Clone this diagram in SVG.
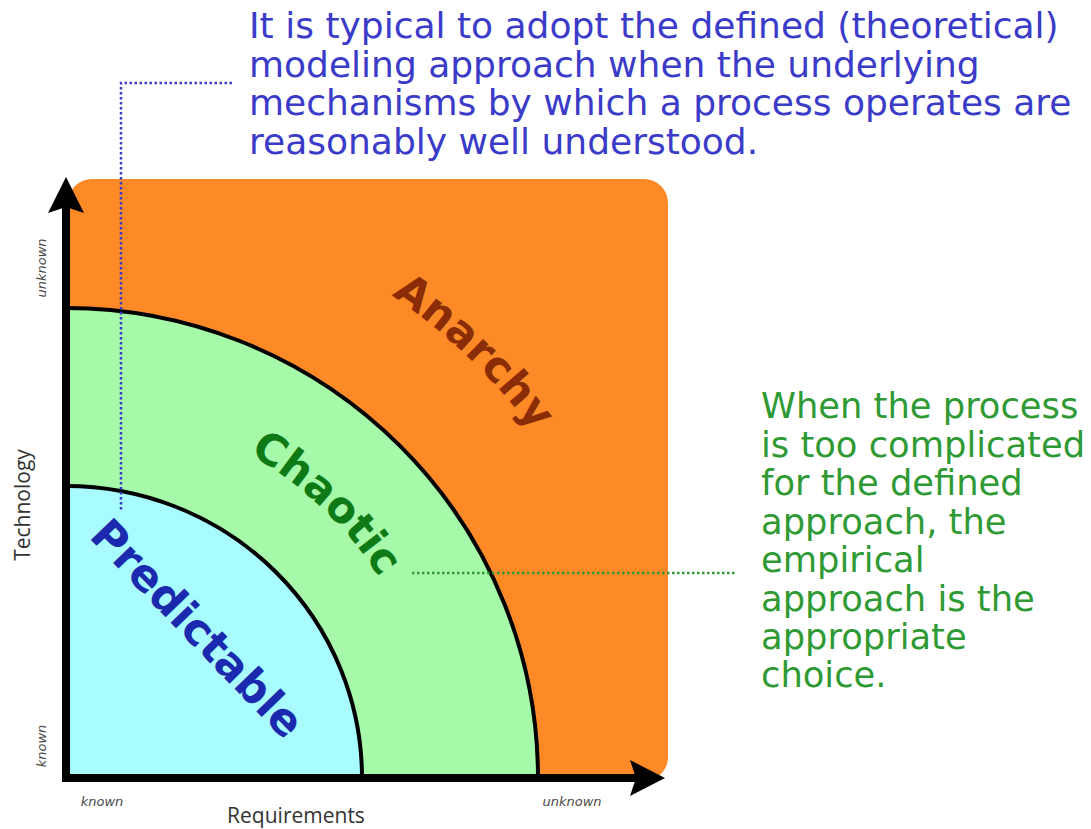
<svg xmlns="http://www.w3.org/2000/svg" width="1091" height="829" viewBox="0 0 1091 829">
<style>
.note{font-family:"DejaVu Sans",Verdana,sans-serif;font-size:36px}
.blue{fill:#3b3bc9}
.green{fill:#2f9a34}
.zone{font-family:"DejaVu Sans",Verdana,sans-serif;font-weight:bold;font-size:43px}
.tiny{font-family:"DejaVu Sans",Verdana,sans-serif;font-style:italic;font-size:13px;fill:#4a4a4a}
.axlabel{font-family:"Open Sans","Liberation Sans",sans-serif;font-size:21px;fill:#333}
.arc{fill:none;stroke:#000;stroke-width:4}
</style>
<defs>
<path id="pChaotic" d="M66,406 A372,372 0 0 1 438,778"/>
<path id="pAnarchy" d="M66,196 A582,582 0 0 1 648,778"/>
</defs>
<g id="anarchy">
<rect x="68" y="179" width="600" height="602" rx="24" fill="#fd8a26"/>
<text class="zone" fill="#8a2c06"><textPath href="#pAnarchy" startOffset="48.6%" text-anchor="middle">Anarchy</textPath></text>
</g>
<g id="chaotic">
<path d="M66,778 L66,308 A472,470 0 0 1 538,778 Z" fill="#a7f9aa"/>
<path class="arc" d="M66,308 A472,470 0 0 1 538,778"/>
<text class="zone" fill="#0d7a16"><textPath href="#pChaotic" startOffset="48.3%" text-anchor="middle">Chaotic</textPath></text>
</g>
<g id="predictable">
<path d="M66,778 L66,486 A296,292 0 0 1 362,778 Z" fill="#a8fbfe"/>
<path class="arc" d="M66,486 A296,292 0 0 1 362,778"/>
<text class="zone" fill="#1a29ae" style="font-size:44px" x="88" y="537" transform="rotate(46 88 537)">Predictable</text>
</g>
<g id="axes">
<line x1="66" y1="782" x2="66" y2="205" stroke="#000" stroke-width="8"/>
<polygon points="66,177 84,213 66,207 48,213" fill="#000"/>
<line x1="62" y1="778" x2="640" y2="778" stroke="#000" stroke-width="8"/>
<polygon points="665,778 630,796 636,778 630,760" fill="#000"/>
<text class="tiny" transform="translate(46,268) rotate(-90)" text-anchor="middle">unknown</text>
<text class="tiny" transform="translate(46,746) rotate(-90)" text-anchor="middle">known</text>
<text class="tiny" x="102" y="806" text-anchor="middle">known</text>
<text class="tiny" x="572" y="806" text-anchor="middle">unknown</text>
<text class="axlabel" transform="translate(30,505) rotate(-90)" text-anchor="middle">Technology</text>
<text class="axlabel" x="296" y="823" text-anchor="middle">Requirements</text>
</g>
<g id="connectors">
<polyline points="232,83 121,83 121,512" fill="none" stroke="#3b3bc9" stroke-width="2.5" stroke-dasharray="2.5 2.5"/>
<line x1="412" y1="573" x2="737" y2="573" stroke="#2f9a34" stroke-width="2.5" stroke-dasharray="2.5 2.5"/>
</g>
<g id="note-defined">
<text class="note blue"><tspan x="249" y="38">It is typical to adopt the defined (theoretical)</tspan><tspan x="249" y="76.5">modeling approach when the underlying</tspan><tspan x="249" y="115">mechanisms by which a process operates are</tspan><tspan x="249" y="153.5">reasonably well understood.</tspan></text>
</g>
<g id="note-empirical">
<text class="note green" style="font-size:35.3px"><tspan x="761" y="418">When the process</tspan><tspan x="761" y="456.5">is too complicated</tspan><tspan x="761" y="495">for the defined</tspan><tspan x="761" y="533.5">approach, the</tspan><tspan x="761" y="572">empirical</tspan><tspan x="761" y="610.5">approach is the</tspan><tspan x="761" y="649">appropriate</tspan><tspan x="761" y="687">choice.</tspan></text>
</g>
</svg>
